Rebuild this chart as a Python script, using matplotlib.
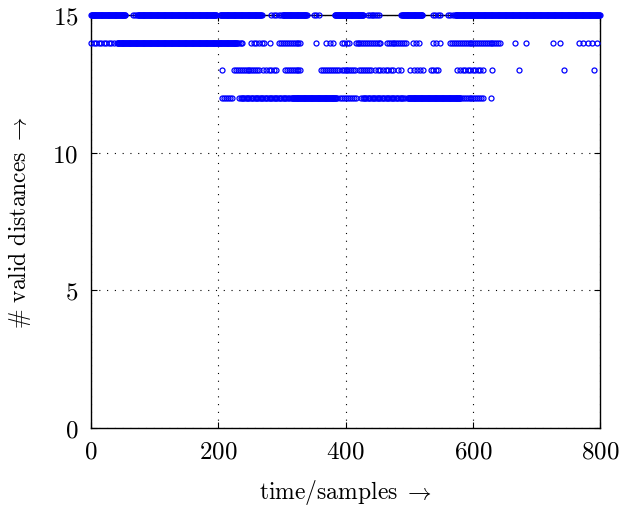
import numpy as np
import matplotlib
matplotlib.use("Agg")
import matplotlib.pyplot as plt

plt.rcParams['font.family'] = 'cmr10'
plt.rcParams['mathtext.fontset'] = 'cm'
plt.rcParams['axes.formatter.use_mathtext'] = True

# runs of samples (start, stop, step) where the number of valid distances equals the row value
runs_15 = [(0, 54, 1), (66, 72, 3), (74, 197, 1), (203, 268, 1), (283, 299, 4),
           (301, 339, 1), (350, 359, 4), (383, 428, 1), (435, 455, 3),
           (488, 521, 1), (537, 550, 4), (561, 569, 4), (572, 800, 1)]
runs_14 = [(0, 38, 4), (41, 230, 1), (232, 238, 3), (252, 272, 4), (282, 282, 1),
           (296, 331, 3), (353, 353, 1), (370, 384, 5), (394, 409, 4),
           (416, 457, 3), (465, 496, 3), (506, 518, 5), (537, 550, 6),
           (565, 643, 3), (666, 666, 1), (684, 684, 1), (726, 726, 1),
           (737, 737, 1), (767, 798, 7)]
runs_13 = [(206, 206, 1), (225, 265, 3), (271, 291, 4), (305, 331, 3),
           (362, 389, 3), (394, 416, 3), (422, 441, 3), (447, 476, 4),
           (482, 487, 5), (502, 524, 5), (534, 546, 4), (576, 619, 4),
           (631, 631, 1), (672, 672, 1), (743, 743, 1), (791, 791, 1)]
runs_12 = [(206, 222, 3), (233, 311, 2), (315, 386, 1), (392, 416, 3),
           (425, 494, 2), (498, 580, 1), (580, 616, 3), (628, 628, 1)]

rows = {15: runs_15, 14: runs_14, 13: runs_13, 12: runs_12}

fig = plt.figure(figsize=(6.2, 5.06), dpi=100)
ax = fig.add_axes([91/620, 1-429/506, 509/620, 413/506])

for val, runs in rows.items():
    x = np.concatenate([np.arange(a, b + 1, s) for a, b, s in runs])
    ax.plot(x, np.full(len(x), val), 'o', ls='none', ms=3.6, mfc='none',
            mec='blue', mew=0.9, clip_on=False, zorder=3)

ax.set_xlim(0, 800)
ax.set_ylim(0, 15)
ax.set_xticks([0, 200, 400, 600, 800])
ax.set_yticks([0, 5, 10, 15])
ax.grid(True, color='black', ls=(0, (1, 6)), lw=0.8)
ax.tick_params(direction='in', top=True, right=True, labelsize=18, length=4, pad=9)
for s in ax.spines.values():
    s.set_linewidth(1.0)
ax.set_xlabel(r'$\mathrm{time/samples}\ \rightarrow$', fontsize=17, labelpad=10)
ax.set_ylabel(r'$\#\ \mathrm{valid\ distances}\ \rightarrow$', fontsize=17, labelpad=14)

fig.savefig('out.png', dpi=100)
